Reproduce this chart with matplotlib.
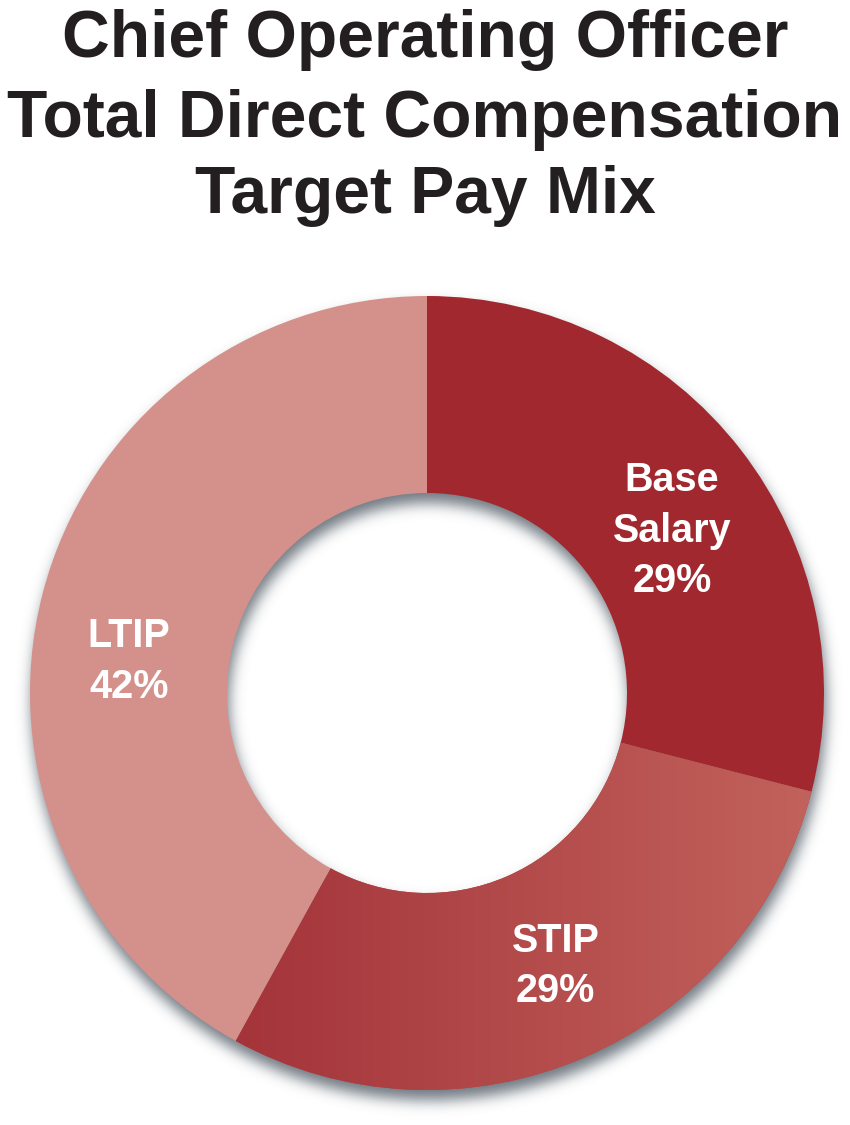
import numpy as np
import matplotlib.pyplot as plt
import matplotlib.colors as mcolors
from matplotlib import font_manager

labels = ["Base\nSalary", "STIP", "LTIP"]
shares = [29, 29, 42]
colors = ["#a0282e", "#b04844", "#d4918c"]
title_lines = ["Chief Operating Officer", "Total Direct Compensation", "Target Pay Mix"]

W, H = 850, 1125
names = {f.name for f in font_manager.fontManager.ttflist}
title_font = "Liberation Sans Narrow" if "Liberation Sans Narrow" in names else "Liberation Sans"

fig = plt.figure(figsize=(W / 100, H / 100), dpi=100)
ax = fig.add_axes([0, 0, 1, 1])
ax.set_xlim(0, W)
ax.set_ylim(0, H)
ax.set_aspect("equal")
ax.axis("off")

cx, cy = 427, 432
r_out, r_in = 397, 200

# soft drop shadow, offset a little downwards
xx, yy = np.meshgrid(np.arange(W) + 0.5, np.arange(H) + 0.5)
d = np.hypot(xx - cx - 2, yy - cy + 10)
mask = ((d <= r_out) & (d >= r_in)).astype(float)
sig = 7.0
k = np.arange(-24, 25)
kern = np.exp(-k**2 / (2 * sig**2))
kern /= kern.sum()
blur = np.apply_along_axis(lambda v: np.convolve(v, kern, mode="same"), 1, mask)
blur = np.apply_along_axis(lambda v: np.convolve(v, kern, mode="same"), 0, blur)
shadow = np.zeros((H, W, 4))
shadow[..., :3] = mcolors.to_rgb("#56606a")
shadow[..., 3] = 0.85 * blur
ax.imshow(shadow, extent=(0, W, 0, H), origin="lower", zorder=1, interpolation="bilinear")

wedges, _ = ax.pie(shares, colors=colors, startangle=90, counterclock=False,
                   center=(cx, cy), radius=r_out, frame=True,
                   wedgeprops=dict(width=r_out - r_in, linewidth=0, zorder=2))
ax.set_xlim(0, W)
ax.set_ylim(0, H)
ax.axis("off")

# horizontal gradient on the STIP slice
grad_c0, grad_c1 = np.array(mcolors.to_rgb("#a4343a")), np.array(mcolors.to_rgb("#c2625c"))
t = np.linspace(0, 1, 256)[None, :, None]
grad = grad_c0 + (grad_c1 - grad_c0) * t
bb = wedges[1].get_path().get_extents(wedges[1].get_patch_transform())
img = ax.imshow(np.repeat(grad, 2, axis=0), extent=(bb.x0, bb.x1, bb.y0, bb.y1),
                origin="lower", zorder=3, aspect="auto")
img.set_clip_path(wedges[1])
ax.set_xlim(0, W)
ax.set_ylim(0, H)

# slice labels
angles = []
start = 90.0
for s in shares:
    span = 360.0 * s / sum(shares)
    angles.append(start - span / 2)
    start -= span
nudge = [-4, 2, 8]
dist = [295, 300, 300]
for lab, s, a, n, r in zip(labels, shares, angles, nudge, dist):
    rad = np.deg2rad(a + n)
    ax.text(cx + r * np.cos(rad), cy + r * np.sin(rad) - 2, f"{lab}\n{s}%",
            ha="center", va="center", color="white", fontsize=28.5,
            fontweight="bold", family="Liberation Sans", linespacing=1.42, zorder=5)

baselines = [57, 137, 213]
for line, b in zip(title_lines, baselines):
    ax.text(W / 2, H - b, line, ha="center", va="baseline", fontsize=47.5,
            fontweight="bold", family=title_font, color="#231f20")

fig.savefig("out.png", dpi=100, facecolor="white")
